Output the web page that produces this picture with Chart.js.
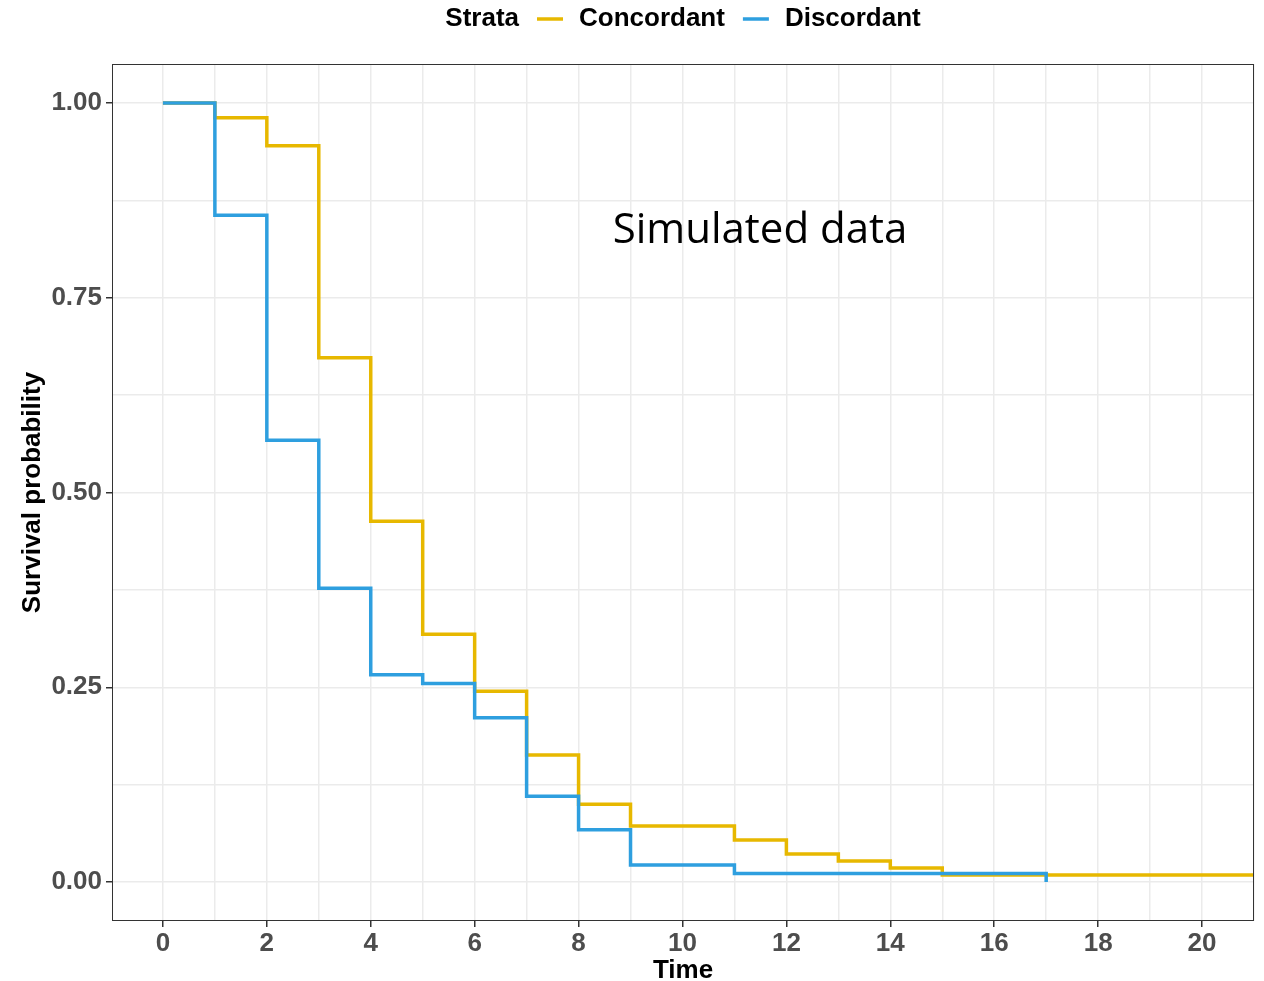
<!DOCTYPE html>
<html>
<head>
<meta charset="utf-8">
<script src="https://cdn.jsdelivr.net/npm/chart.js@4.4.1/dist/chart.umd.min.js"></script>
<style>
  html, body { margin: 0; padding: 0; background: #fff; }
  #wrap { width: 1264px; height: 981px; }
</style>
</head>
<body>
<div id="wrap"><canvas id="myChart" width="1264" height="981"></canvas></div>
<script>
// Kaplan-Meier step curves
const concTimes = [0, 1, 2, 3, 4, 5, 6, 7, 8, 9, 11, 12, 13, 14, 15, 21];
const concSurv = [1.00, 0.981, 0.945, 0.673, 0.463, 0.318, 0.245, 0.163, 0.100, 0.072, 0.054, 0.036, 0.027, 0.018, 0.009, 0.009];

const discTimes = [0, 1, 2, 3, 4, 5, 6, 7, 8, 9, 11, 17];
const discSurv = [1.00, 0.856, 0.567, 0.377, 0.266, 0.255, 0.211, 0.110, 0.067, 0.022, 0.011, 0.0];

const xTicks = [0, 1, 2, 3, 4, 5, 6, 7, 8, 9, 10, 11, 12, 13, 14, 15, 16, 17, 18, 19, 20, 21];
const yTicks = [0, 0.125, 0.25, 0.375, 0.5, 0.625, 0.75, 0.875, 1.0];

const legendTitle = "Strata";
const seriesNames = ["Concordant", "Discordant"];
const seriesColors = ["#E7B800", "#2E9FDF"];
const annotation = "Simulated data";

const FONT = "'Liberation Sans', Arial, sans-serif";
const toPoints = (xs, ys) => xs.map((x, i) => ({x: x, y: ys[i]}));
const isMajorY = v => Math.abs(v * 4 - Math.round(v * 4)) < 1e-6;

// legend on one row + panel border + annotation text
const extras = {
  id: "extras",
  afterDraw(chart) {
    const ctx = chart.ctx;
    const a = chart.chartArea;
    ctx.save();
    ctx.strokeStyle = "#333333";
    ctx.lineWidth = 1;
    ctx.strokeRect(a.left + 0.5, a.top + 0.5, a.right - a.left - 1, a.bottom - a.top - 1);

    ctx.font = "bold 26px " + FONT;
    ctx.textBaseline = "middle";
    const gap1 = 18, keyW = 26, gap2 = 16;
    let total = ctx.measureText(legendTitle).width;
    seriesNames.forEach(n => { total += gap1 + keyW + gap2 + ctx.measureText(n).width; });
    let x = (a.left + a.right) / 2 - total / 2;
    const y = 19;
    ctx.fillStyle = "#000";
    ctx.fillText(legendTitle, x, y);
    x += ctx.measureText(legendTitle).width;
    seriesNames.forEach((n, i) => {
      x += gap1;
      ctx.strokeStyle = seriesColors[i];
      ctx.lineWidth = 3.5;
      ctx.beginPath();
      ctx.moveTo(x, y);
      ctx.lineTo(x + keyW, y);
      ctx.stroke();
      x += keyW + gap2;
      ctx.fillStyle = "#000";
      ctx.fillText(n, x, y);
      x += ctx.measureText(n).width;
    });

    ctx.font = "42px 'Open Sans', sans-serif";
    ctx.textAlign = "center";
    ctx.fillText(annotation, 760, 231);
    ctx.restore();
  }
};

new Chart("myChart", {
  type: "line",
  data: {
    datasets: [{
      label: seriesNames[0],
      data: toPoints(concTimes, concSurv),
      borderColor: seriesColors[0],
      borderWidth: 3.5,
      pointRadius: 0,
      stepped: "before",
      fill: false,
      order: 2
    }, {
      label: seriesNames[1],
      data: toPoints(discTimes, discSurv),
      borderColor: seriesColors[1],
      borderWidth: 3.5,
      pointRadius: 0,
      stepped: "before",
      fill: false,
      order: 1
    }]
  },
  options: {
    responsive: false,
    animation: false,
    layout: { padding: { top: 64, right: 10, left: 0, bottom: 0 } },
    plugins: {
      legend: { display: false },
      tooltip: { enabled: false }
    },
    scales: {
      x: {
        type: "linear",
        min: -0.98,
        max: 21,
        afterBuildTicks: s => { s.ticks = xTicks.map(v => ({value: v})); },
        afterFit: s => { s.height = 60; },
        border: { display: false },
        grid: {
          color: "#ebebeb",
          lineWidth: 1.5,
          tickLength: 6,
          tickColor: c => (c.tick && c.tick.value % 2 === 0) ? "#333333" : "rgba(0,0,0,0)"
        },
        ticks: {
          autoSkip: false,
          maxRotation: 0,
          padding: 1,
          color: "#4d4d4d",
          font: { family: FONT, size: 26, weight: "bold" },
          callback: v => (v % 2 === 0 ? String(v) : "")
        },
        title: {
          display: true,
          text: "Time",
          color: "#000",
          padding: { top: 0, bottom: -5 },
          font: { family: FONT, size: 26, weight: "bold" }
        }
      },
      y: {
        type: "linear",
        min: -0.05,
        max: 1.05,
        afterBuildTicks: s => { s.ticks = yTicks.map(v => ({value: v})); },
        afterFit: s => { s.width = 112; },
        border: { display: false },
        grid: {
          color: "#ebebeb",
          lineWidth: 1.5,
          tickLength: 6,
          tickColor: c => (c.tick && isMajorY(c.tick.value)) ? "#333333" : "rgba(0,0,0,0)"
        },
        ticks: {
          autoSkip: false,
          padding: 4,
          color: "#4d4d4d",
          font: { family: FONT, size: 26, weight: "bold" },
          callback: v => (isMajorY(v) ? v.toFixed(2) : "")
        },
        title: {
          display: true,
          text: "Survival probability",
          color: "#000",
          padding: { top: 17, bottom: 0 },
          font: { family: FONT, size: 26, weight: "bold" }
        }
      }
    }
  },
  plugins: [extras]
});
</script>
</body>
</html>
